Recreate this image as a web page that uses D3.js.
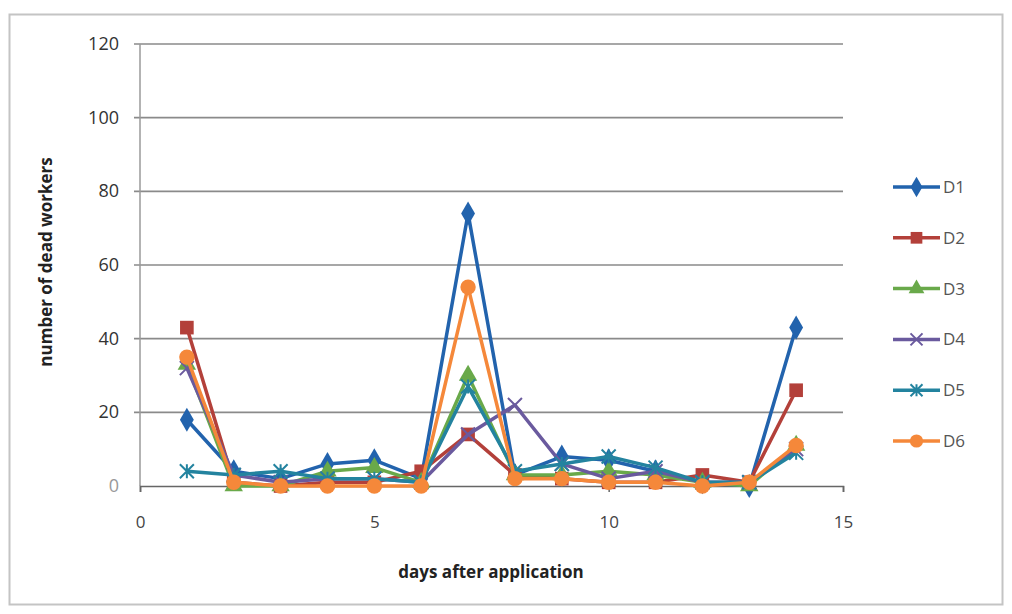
<!DOCTYPE html>
<html><head><meta charset="utf-8">
<script src="https://cdn.jsdelivr.net/npm/d3@7"></script>
<style>body{margin:0;background:#fff;}svg{display:block;font-family:"Open Sans","Liberation Sans",sans-serif;}</style>
</head><body><svg id="c" width="1012" height="614"></svg>
<script>
const days = [1,2,3,4,5,6,7,8,9,10,11,12,13,14];
const seriesNames = ["D1","D2","D3","D4","D5","D6"];
const D1 = [18,4,2,6,7,2,74,3,8,7,4,1,0,43];
const D2 = [43,1,0,1,1,4,14,3,2,1,1,3,1,26];
const D3 = [33,0,0,4,5,1,30,3,3,4,3,1,0,11];
const D4 = [32,3,1,2,2,1,14,22,6,2,4,1,1,10];
const D5 = [4,3,4,2,2,1,27,4,6,8,5,1,1,9];
const D6 = [35,1,0,0,0,0,54,2,2,1,1,0,1,11];
const yTicks = [0,20,40,60,80,100,120];
const xTicks = [0,5,10,15];
const colors = ["#2263ad","#b3403a","#69a94a","#6a5a9e","#23839f","#f5883a"];
const markers = [d3.symbolDiamond,d3.symbolSquare,d3.symbolTriangle,"x","star",d3.symbolCircle];
const allSeries = [D1,D2,D3,D4,D5,D6];

const svg = d3.select("#c");
svg.append("rect").attr("x",9.5).attr("y",14.5).attr("width",993).attr("height",590)
  .attr("fill","none").attr("stroke","#c4c4c4").attr("stroke-width",2);

const x = d3.scaleLinear().domain([0,15]).range([140,843]);
const y = d3.scaleLinear().domain([0,120]).range([486,44]);

// gridlines
svg.append("g").selectAll("line").data(yTicks.filter(t=>t>0)).join("line")
  .attr("x1",134).attr("x2",843).attr("y1",d=>y(d)).attr("y2",d=>y(d))
  .attr("stroke","#8a8a8a").attr("stroke-width",1.6);
// y axis line
svg.append("line").attr("x1",140).attr("x2",140).attr("y1",44).attr("y2",486)
  .attr("stroke","#9a9a9a").attr("stroke-width",1.5);
// y ticks labels
svg.append("g").selectAll("text").data(yTicks).join("text")
  .attr("x",119).attr("y",d=>y(d)+6).attr("text-anchor","end")
  .attr("font-size",18).attr("fill",d=>d===0?"#999":"#333").text(d=>d);

// x axis
const xAxis = d3.axisBottom(x).tickValues(xTicks).tickSize(6).tickFormat(d3.format("d"));
const gx = svg.append("g").attr("transform","translate(0,486)").call(xAxis);
gx.select(".domain").attr("stroke","#666").attr("stroke-width",1.6);
gx.selectAll(".tick line").attr("stroke","#666").attr("stroke-width",1.5);
gx.selectAll(".tick text").attr("font-size",17).attr("fill","#444").attr("y",30)
  .attr("font-family","'Open Sans','Liberation Sans',sans-serif");

// titles
svg.append("text").attr("x",491).attr("y",578).attr("text-anchor","middle")
  .attr("font-size",17).attr("font-weight","bold").attr("fill","#222").text("days after application");
svg.append("text").attr("transform","translate(52,262) rotate(-90)").attr("text-anchor","middle")
  .attr("font-size",17).attr("font-weight","bold").attr("fill","#222").text("number of dead workers");

function drawMarker(g, type, color, size){
  if(type==="x"){
    g.append("path").attr("d",`M${-size/2},${-size/2}L${size/2},${size/2}M${-size/2},${size/2}L${size/2},${-size/2}`)
      .attr("stroke",color).attr("stroke-width",2).attr("fill","none");
  } else if(type==="star"){
    g.append("path").attr("d",`M${-size/2},${-size/2}L${size/2},${size/2}M${-size/2},${size/2}L${size/2},${-size/2}M0,${-size/2}L0,${size/2}`)
      .attr("stroke",color).attr("stroke-width",2).attr("fill","none");
  } else {
    const k = size*size;
    const area = type===d3.symbolTriangle?k*0.75:(type===d3.symbolDiamond?k*0.85:k*0.95);
    g.append("path").attr("d",d3.symbol().type(type).size(area)()).attr("fill",color);
  }
}

const line = d3.line().x((d,i)=>x(days[i])).y(d=>y(d));
allSeries.forEach((s,k)=>{
  const g = svg.append("g");
  g.append("path").datum(s).attr("d",line).attr("fill","none")
    .attr("stroke",colors[k]).attr("stroke-width",3.5).attr("stroke-linejoin","round");
  s.forEach((v,i)=>{
    const mg = g.append("g").attr("transform",`translate(${x(days[i])},${y(v)})`);
    drawMarker(mg, markers[k], colors[k], 14);
  });
});

// legend
const lg = svg.append("g");
seriesNames.forEach((n,k)=>{
  const yy = 187 + k*50.8;
  lg.append("line").attr("x1",893).attr("x2",940).attr("y1",yy).attr("y2",yy)
    .attr("stroke",colors[k]).attr("stroke-width",3.5);
  const mg = lg.append("g").attr("transform",`translate(916.5,${yy})`);
  drawMarker(mg, markers[k], colors[k], 12);
  lg.append("text").attr("x",943).attr("y",yy+6).attr("font-size",17).attr("fill","#555").text(n);
});
</script></body></html>
